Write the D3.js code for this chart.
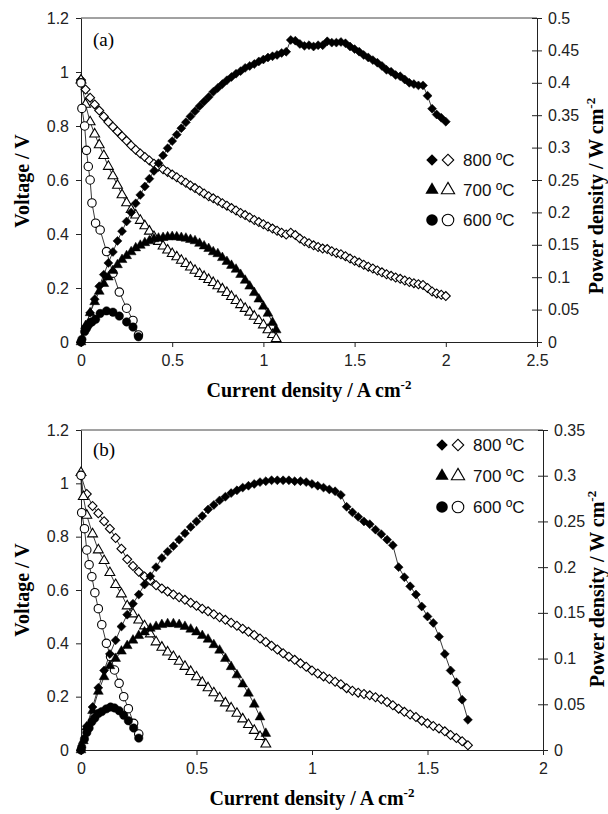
<!DOCTYPE html>
<html>
<head>
<meta charset="utf-8">
<script src="https://cdn.jsdelivr.net/npm/d3@7"></script>
<style>
  body { margin: 0; background: #fff; }
  svg { display: block; }
</style>
</head>
<body>
<svg id="chart"></svg>
<script>
const width = 608, height = 814;
const serif = "'Liberation Serif','Times New Roman',serif";
const sans = "'Liberation Sans',Arial,sans-serif";

// ---------------- data: panel (a) ----------------
const cur800a = [0,0.025,0.05,0.075,0.1,0.125,0.15,0.175,0.2,0.225,0.25,0.275,0.3,0.325,0.35,0.375,0.4,0.425,0.45,0.475,
  0.5,0.525,0.55,0.575,0.6,0.625,0.65,0.675,0.7,0.725,0.75,0.775,0.8,0.825,0.85,0.875,0.9,0.925,0.95,0.975,
  1,1.025,1.05,1.075,1.1,1.125,1.15,1.175,1.2,1.225,1.25,1.275,1.3,1.325,1.35,1.375,1.4,1.425,1.45,1.475,
  1.5,1.525,1.55,1.575,1.6,1.625,1.65,1.675,1.7,1.725,1.75,1.775,1.8,1.825,1.85,1.875,1.9,1.925,1.95,1.975,2];
const volt800a = [0.97,0.935,0.905,0.88,0.857,0.835,0.815,0.797,0.78,0.762,0.745,0.728,0.712,0.698,0.685,0.672,0.66,0.65,0.64,0.63,
  0.62,0.61,0.6,0.59,0.58,0.57,0.56,0.55,0.54,0.532,0.523,0.514,0.505,0.496,0.487,0.478,0.47,0.461,0.452,0.444,
  0.436,0.428,0.42,0.412,0.405,0.398,0.405,0.396,0.383,0.373,0.366,0.358,0.352,0.346,0.344,0.336,0.33,0.325,0.318,0.309,
  0.301,0.294,0.286,0.279,0.272,0.265,0.258,0.251,0.245,0.239,0.234,0.228,0.222,0.218,0.214,0.211,0.2,0.187,0.18,0.175,0.17];
const pow800a = [0,0.023,0.045,0.066,0.086,0.104,0.122,0.139,0.156,0.171,0.186,0.2,0.214,0.227,0.24,0.252,0.264,0.276,0.288,0.299,
  0.31,0.32,0.33,0.339,0.348,0.356,0.364,0.371,0.378,0.386,0.392,0.398,0.404,0.409,0.414,0.418,0.423,0.426,0.429,0.433,
  0.436,0.439,0.441,0.443,0.446,0.448,0.466,0.465,0.46,0.457,0.458,0.456,0.458,0.458,0.464,0.462,0.462,0.463,0.461,0.456,
  0.452,0.448,0.443,0.439,0.435,0.431,0.426,0.42,0.417,0.412,0.41,0.405,0.4,0.398,0.396,0.396,0.38,0.36,0.351,0.346,0.34];

const cur700a = [0,0.025,0.05,0.075,0.1,0.125,0.15,0.175,0.2,0.225,0.25,0.275,0.3,0.325,0.35,0.375,0.4,0.425,0.45,0.475,
  0.5,0.525,0.55,0.575,0.6,0.625,0.65,0.675,0.7,0.725,0.75,0.775,0.8,0.825,0.85,0.875,0.9,0.925,0.95,0.975,
  1,1.025,1.05,1.07];
const volt700a = [0.97,0.88,0.815,0.77,0.73,0.69,0.65,0.615,0.58,0.545,0.515,0.49,0.47,0.45,0.43,0.41,0.39,0.372,0.355,0.34,
  0.327,0.315,0.302,0.29,0.277,0.265,0.253,0.242,0.231,0.22,0.208,0.196,0.183,0.168,0.153,0.138,0.124,0.11,0.095,0.079,
  0.063,0.045,0.027,0.012];
const pow700a = [0,0.025,0.045,0.062,0.078,0.09,0.1,0.11,0.119,0.127,0.133,0.139,0.145,0.149,0.153,0.156,0.159,0.16,0.161,0.162,
  0.1625,0.162,0.161,0.16,0.158,0.156,0.152,0.148,0.144,0.139,0.136,0.13,0.124,0.118,0.112,0.104,0.095,0.086,0.076,0.066,
  0.055,0.044,0.03,0.0185];

const cur600a = [0,0.005,0.02,0.03,0.04,0.05,0.06,0.08,0.105,0.14,0.175,0.21,0.25,0.285,0.315];
const volt600a = [0.96,0.865,0.8,0.71,0.65,0.6,0.515,0.44,0.415,0.335,0.255,0.185,0.125,0.08,0.026];
const pow600a = [0,0.004,0.016,0.021,0.026,0.03,0.031,0.035,0.044,0.048,0.046,0.04,0.031,0.023,0.008];

// ---------------- data: panel (b) ----------------
const cur800b = [0,0.025,0.05,0.075,0.1,0.125,0.15,0.175,0.2,0.225,0.25,0.275,0.3,0.325,0.35,0.375,0.4,0.425,0.45,0.475,
  0.5,0.525,0.55,0.575,0.6,0.625,0.65,0.675,0.7,0.725,0.75,0.775,0.8,0.825,0.85,0.875,0.9,0.925,0.95,0.975,
  1,1.025,1.05,1.075,1.1,1.125,1.15,1.175,1.2,1.225,1.25,1.275,1.3,1.325,1.35,1.375,1.4,1.425,1.45,1.475,
  1.5,1.525,1.55,1.575,1.6,1.625,1.65,1.675];
const volt800b = [1.03,0.96,0.915,0.888,0.858,0.83,0.795,0.755,0.715,0.69,0.668,0.651,0.636,0.618,0.606,0.594,0.583,0.573,0.563,0.552,
  0.541,0.53,0.52,0.509,0.498,0.488,0.477,0.466,0.455,0.443,0.431,0.418,0.405,0.391,0.377,0.363,0.35,0.338,0.325,0.312,
  0.298,0.287,0.276,0.266,0.256,0.247,0.232,0.222,0.215,0.21,0.205,0.198,0.19,0.18,0.168,0.155,0.143,0.133,0.124,0.11,
  0.1,0.09,0.081,0.07,0.056,0.045,0.033,0.018];
const pow800b = [0,0.026,0.047,0.068,0.087,0.105,0.12,0.135,0.148,0.16,0.17,0.181,0.19,0.2,0.21,0.217,0.223,0.23,0.237,0.244,
  0.25,0.256,0.263,0.268,0.273,0.277,0.281,0.284,0.287,0.289,0.291,0.293,0.294,0.295,0.295,0.295,0.295,0.294,0.294,0.293,
  0.291,0.289,0.287,0.285,0.283,0.279,0.266,0.26,0.255,0.25,0.247,0.241,0.236,0.23,0.224,0.2,0.189,0.179,0.17,0.157,
  0.146,0.139,0.124,0.105,0.087,0.074,0.055,0.033];

const cur700b = [0,0.01,0.025,0.05,0.075,0.1,0.125,0.15,0.175,0.2,0.225,0.25,0.275,0.3,0.325,0.35,0.375,0.4,0.425,0.45,0.475,
  0.5,0.525,0.55,0.575,0.6,0.625,0.65,0.675,0.7,0.725,0.75,0.775,0.8];
const volt700b = [1.04,0.95,0.88,0.81,0.75,0.71,0.665,0.62,0.585,0.54,0.51,0.487,0.465,0.435,0.405,0.385,0.367,0.35,0.332,0.313,0.294,
  0.274,0.253,0.233,0.214,0.195,0.176,0.157,0.137,0.116,0.095,0.073,0.05,0.022];
const pow700b = [0,0.01,0.025,0.043,0.064,0.08,0.092,0.1,0.108,0.114,0.12,0.125,0.129,0.133,0.135,0.137,0.138,0.138,0.137,0.135,0.132,
  0.129,0.125,0.121,0.115,0.109,0.1,0.091,0.082,0.072,0.062,0.05,0.036,0.018];

const cur600b = [0,0.003,0.015,0.025,0.035,0.047,0.06,0.075,0.09,0.11,0.128,0.145,0.165,0.185,0.205,0.228,0.25];
const volt600b = [1.03,0.89,0.83,0.75,0.695,0.65,0.59,0.53,0.47,0.4,0.35,0.3,0.25,0.2,0.155,0.1,0.06];
const pow600b = [0,0.003,0.012,0.019,0.024,0.031,0.035,0.04,0.042,0.045,0.047,0.046,0.043,0.038,0.032,0.024,0.013];

// ---------------- ticks / labels ----------------
const voltTicks = [0,0.2,0.4,0.6,0.8,1,1.2];
const curTicksA = [0,0.5,1,1.5,2,2.5];
const curTicksB = [0,0.5,1,1.5,2];
const powTicksA = [0,0.05,0.1,0.15,0.2,0.25,0.3,0.35,0.4,0.45,0.5];
const powTicksB = [0,0.05,0.1,0.15,0.2,0.25,0.3,0.35];
const legendLabels = ["800 ºC", "700 ºC", "600 ºC"];

const svg = d3.select("#chart").attr("width", width).attr("height", height);

const shapes = {
  diamond: d3.symbol().type(d3.symbolSquare).size(40)(),
  triangle: d3.symbol().type(d3.symbolTriangle).size(42)(),
  circle: d3.symbol().type(d3.symbolCircle).size(56)()
};
const legendShapes = {
  diamond: d3.symbol().type(d3.symbolSquare).size(66)(),
  triangle: d3.symbol().type(d3.symbolTriangle).size(76)(),
  circle: d3.symbol().type(d3.symbolCircle).size(105)()
};
const fmt = d => String(+d.toFixed(2));

function drawPanel(p) {
  const g = svg.append("g");
  const x = d3.scaleLinear().domain([0, p.xMax]).range([p.left, p.right]);
  const yV = d3.scaleLinear().domain([0, 1.2]).range([p.bottom, p.top]);
  const yP = d3.scaleLinear().domain([0, p.pMax]).range([p.bottom, p.top]);

  // top border
  g.append("line")
    .attr("x1", p.left).attr("x2", p.right)
    .attr("y1", p.top).attr("y2", p.top)
    .attr("stroke", "#444").attr("stroke-width", 1);

  const styleAxis = sel => {
    sel.select(".domain").attr("stroke", "#222");
    sel.selectAll(".tick line").attr("stroke", "#222");
    sel.selectAll("text").attr("font-family", sans).attr("font-size", 16).attr("fill", "#222");
  };

  g.append("g")
    .attr("transform", "translate(0," + p.bottom + ")")
    .call(d3.axisBottom(x).tickValues(p.xTicks).tickFormat(fmt).tickSize(5).tickSizeOuter(0).tickPadding(8))
    .call(styleAxis);

  g.append("g")
    .attr("transform", "translate(" + p.left + ",0)")
    .call(d3.axisLeft(yV).tickValues(voltTicks).tickFormat(fmt).tickSize(5).tickSizeOuter(0).tickPadding(7))
    .call(styleAxis);

  const ra = g.append("g")
    .attr("transform", "translate(" + p.right + ",0)")
    .call(d3.axisRight(yP).tickValues(p.pTicks).tickFormat(fmt).tickSize(5).tickSizeOuter(0).tickPadding(6))
    .call(styleAxis);
  ra.selectAll(".tick line").attr("x1", -5).attr("x2", 5);

  // series
  const series = p.series;
  const line = (ys) => d3.line().x(d => x(d[0])).y(d => ys(d[1]));
  series.forEach(s => {
    const ys = s.axis === "V" ? yV : yP;
    const pts = s.cur.map((c, i) => [c, s.val[i]]);
    g.append("path")
      .datum(pts)
      .attr("d", line(ys))
      .attr("fill", "none")
      .attr("stroke", "#222")
      .attr("stroke-width", 0.9);
  });
  series.forEach(s => {
    const ys = s.axis === "V" ? yV : yP;
    const pts = s.cur.map((c, i) => [c, s.val[i]]);
    g.append("g").selectAll("path")
      .data(pts)
      .join("path")
      .attr("d", shapes[s.shape])
      .attr("transform", d => "translate(" + x(d[0]) + "," + ys(d[1]) + ")" + (s.shape === "diamond" ? " rotate(45)" : ""))
      .attr("fill", s.filled ? "#000" : "#fff")
      .attr("stroke", "#000")
      .attr("stroke-width", s.filled ? 0.5 : 1.1);
  });

  // panel tag
  g.append("text")
    .attr("x", p.left + 12).attr("y", p.top + p.tagDy)
    .attr("font-family", serif).attr("font-size", 19)
    .text(p.tag);

  // legend
  const shapeNames = ["diamond", "triangle", "circle"];
  legendLabels.forEach((lab, i) => {
    const cy = p.legY + i * p.legStep;
    const tr = sh => sh === "diamond" ? " rotate(45)" : "";
    g.append("path")
      .attr("d", legendShapes[shapeNames[i]])
      .attr("transform", "translate(" + p.legX + "," + cy + ")" + tr(shapeNames[i]))
      .attr("fill", "#000");
    g.append("path")
      .attr("d", legendShapes[shapeNames[i]])
      .attr("transform", "translate(" + (p.legX + 16) + "," + cy + ")" + tr(shapeNames[i]))
      .attr("fill", "#fff").attr("stroke", "#000").attr("stroke-width", 1.1);
    g.append("text")
      .attr("x", p.legX + 31).attr("y", cy + 6)
      .attr("font-family", sans).attr("font-size", 17).attr("fill", "#111")
      .text(lab);
  });

  // axis titles
  const xt = g.append("text")
    .attr("x", (p.left + p.right) / 2).attr("y", p.bottom + 55)
    .attr("text-anchor", "middle")
    .attr("font-family", serif).attr("font-size", 20).attr("font-weight", "bold")
    .text("Current density / A cm");
  xt.append("tspan").attr("dy", -8).attr("font-size", 13).text("-2");

  g.append("text")
    .attr("transform", "translate(29," + p.vMid + ") rotate(-90)")
    .attr("text-anchor", "middle")
    .attr("font-family", serif).attr("font-size", 20).attr("font-weight", "bold")
    .text("Voltage / V");

  const pt = g.append("text")
    .attr("transform", "translate(" + p.pX + "," + p.pMid + ") rotate(-90)")
    .attr("text-anchor", "middle")
    .attr("font-family", serif).attr("font-size", 20).attr("font-weight", "bold")
    .text("Power density / W cm");
  pt.append("tspan").attr("dy", -8).attr("font-size", 13).text("-2");
}

drawPanel({
  left: 81, right: 537, top: 18, bottom: 342,
  xMax: 2.5, pMax: 0.5, xTicks: curTicksA, pTicks: powTicksA,
  tag: "(a)", tagDy: 28,
  legX: 432, legY: 160, legStep: 30,
  vMid: 181, pX: 603, pMid: 196,
  series: [
    { cur: cur800a, val: volt800a, axis: "V", shape: "diamond", filled: false },
    { cur: cur700a, val: volt700a, axis: "V", shape: "triangle", filled: false },
    { cur: cur600a, val: volt600a, axis: "V", shape: "circle", filled: false },
    { cur: cur800a, val: pow800a, axis: "P", shape: "diamond", filled: true },
    { cur: cur700a, val: pow700a, axis: "P", shape: "triangle", filled: true },
    { cur: cur600a, val: pow600a, axis: "P", shape: "circle", filled: true }
  ]
});

drawPanel({
  left: 81, right: 543, top: 430, bottom: 750,
  xMax: 2, pMax: 0.35, xTicks: curTicksB, pTicks: powTicksB,
  tag: "(b)", tagDy: 26,
  legX: 442, legY: 445, legStep: 31,
  vMid: 590, pX: 604, pMid: 589,
  series: [
    { cur: cur800b, val: volt800b, axis: "V", shape: "diamond", filled: false },
    { cur: cur700b, val: volt700b, axis: "V", shape: "triangle", filled: false },
    { cur: cur600b, val: volt600b, axis: "V", shape: "circle", filled: false },
    { cur: cur800b, val: pow800b, axis: "P", shape: "diamond", filled: true },
    { cur: cur700b, val: pow700b, axis: "P", shape: "triangle", filled: true },
    { cur: cur600b, val: pow600b, axis: "P", shape: "circle", filled: true }
  ]
});
</script>
</body>
</html>
